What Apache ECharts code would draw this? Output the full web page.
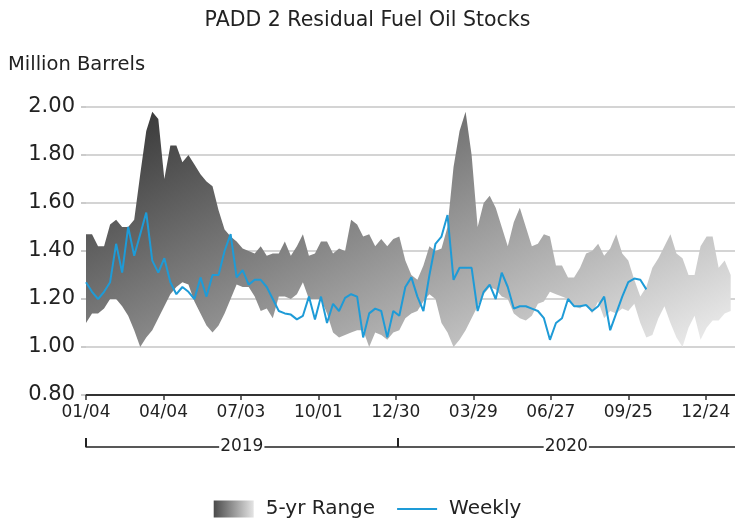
<!DOCTYPE html>
<html>
<head>
<meta charset="utf-8">
<title>PADD 2 Residual Fuel Oil Stocks</title>
<script src="https://cdn.jsdelivr.net/npm/echarts@6/dist/echarts.min.js"></script>
<style>
  html, body { margin: 0; padding: 0; background: #fff; }
  #chart { width: 735px; height: 524px; }
</style>
</head>
<body>
<div id="chart"></div>
<script>
// weekly data, first week is 2019-01-04
const startDate = Date.UTC(2019, 0, 4)
const years = ['2019', '2020']

// 5-yr range, max and min (million barrels)
const rangeHigh = [
  1.47, 1.47, 1.42, 1.42, 1.51, 1.53, 1.50, 1.50, 1.53, 1.72, 1.90, 1.98, 1.95, 1.70, 1.84, 1.84, 1.77, 1.80, 1.76,
  1.72, 1.69, 1.67, 1.57, 1.49, 1.46, 1.44, 1.41, 1.40, 1.39, 1.42, 1.38, 1.39, 1.39, 1.44, 1.38, 1.42, 1.47,
  1.38, 1.39, 1.44, 1.44, 1.39, 1.41, 1.40, 1.53, 1.51, 1.46, 1.47, 1.42, 1.45, 1.42, 1.45, 1.46, 1.36, 1.30,
  1.28, 1.34, 1.42, 1.40, 1.41, 1.50, 1.75, 1.90, 1.98, 1.80, 1.50, 1.60, 1.63, 1.58, 1.50, 1.42, 1.52, 1.58, 1.50,
  1.42, 1.43, 1.47, 1.46, 1.34, 1.34, 1.29, 1.29, 1.33, 1.39, 1.40, 1.43, 1.38, 1.41, 1.47, 1.39,
  1.36, 1.28, 1.21, 1.25, 1.33, 1.37, 1.42, 1.47, 1.39, 1.37, 1.30, 1.30, 1.42, 1.46, 1.46, 1.33, 1.36, 1.30
]
const rangeLow = [
  1.10, 1.14, 1.14, 1.16, 1.20, 1.20, 1.17, 1.13, 1.07, 1.00, 1.04, 1.07, 1.12, 1.17, 1.22, 1.25, 1.27, 1.26, 1.19,
  1.14, 1.09, 1.06, 1.09, 1.14, 1.20, 1.26, 1.25, 1.25, 1.21, 1.15, 1.16, 1.12, 1.21, 1.21, 1.20, 1.22, 1.27,
  1.20, 1.20, 1.20, 1.14, 1.06, 1.04, 1.05, 1.06, 1.07, 1.07, 1.00, 1.06, 1.05, 1.03, 1.06, 1.07, 1.12, 1.14,
  1.15, 1.19, 1.22, 1.20, 1.10, 1.06, 1.00, 1.03, 1.07, 1.12, 1.17, 1.22, 1.25, 1.24, 1.21, 1.20, 1.14, 1.12, 1.11,
  1.13, 1.18, 1.19, 1.23, 1.22, 1.21, 1.20, 1.17, 1.16, 1.18, 1.14, 1.19, 1.12, 1.15, 1.14, 1.16,
  1.15, 1.18, 1.10, 1.04, 1.05, 1.12, 1.17, 1.10, 1.04, 1.00, 1.08, 1.13, 1.03, 1.08, 1.11, 1.11, 1.14, 1.15
]
// weekly stocks 2019-2020
const weekly = [
  1.27, 1.23, 1.20, 1.23, 1.27, 1.43, 1.31, 1.50, 1.38, 1.47, 1.56, 1.36, 1.31, 1.37, 1.27, 1.22, 1.25, 1.23, 1.20,
  1.29, 1.21, 1.30, 1.30, 1.40, 1.47, 1.29, 1.32, 1.26, 1.28, 1.28, 1.25, 1.20, 1.15, 1.14, 1.135, 1.115, 1.13,
  1.21, 1.115, 1.21, 1.10, 1.18, 1.15, 1.205, 1.22, 1.21, 1.04, 1.14, 1.16, 1.15, 1.04, 1.15, 1.13, 1.25, 1.29,
  1.21, 1.15, 1.30, 1.43, 1.46, 1.55, 1.28, 1.33, 1.33, 1.33, 1.15, 1.23, 1.26, 1.20, 1.31, 1.25, 1.16, 1.17, 1.17,
  1.16, 1.15, 1.12, 1.03, 1.10, 1.12, 1.20, 1.17, 1.17, 1.175, 1.15, 1.17, 1.21, 1.07, 1.14, 1.21, 1.27, 1.285, 1.28, 1.24
]

const DAY = 86400000
const xMax = 754

const dayOf = (ms) => Math.round((ms - startDate) / DAY)
const fmtDate = (d) => {
  const dt = new Date(startDate + d * DAY)
  const mm = String(dt.getUTCMonth() + 1).padStart(2, '0')
  const dd = String(dt.getUTCDate()).padStart(2, '0')
  return mm + '/' + dd
}

// year boundaries and label positions on the lower bracket axis
const yearStarts = years.map(y => Math.max(0, dayOf(Date.UTC(+y, 0, 1))))
const yearMids = years.map((y, i) => {
  const end = i + 1 < years.length ? yearStarts[i + 1] : xMax
  return (yearStarts[i] + end) / 2
})

const weeklyPts = weekly.map((v, i) => [i * 7, v])

const font = 'DejaVu Sans, Liberation Sans, sans-serif'
const blue = '#1e9bd7'

// dark at the top left, fading to light grey towards the bottom right
const bandFill = new echarts.graphic.LinearGradient(86, 107, 305, 544, [
  { offset: 0, color: '#2e2e2e' },
  { offset: 1, color: '#ebebeb' }
], true)

const legendFill = new echarts.graphic.LinearGradient(0, 0, 1, 0, [
  { offset: 0, color: '#4a4a4a' },
  { offset: 1, color: '#e4e4e4' }
])

// thin horizontal bar inside a 40x17 box (the corner dots keep the box size)
const lineIcon = 'path://M0,0L0.01,0Z M0,7.5L40,7.5L40,9.5L0,9.5Z M39.99,17L40,17Z'

const chart = echarts.init(document.getElementById('chart'))

const option = {
  animation: false,
  textStyle: { fontFamily: font },
  title: [
    {
      text: 'PADD 2 Residual Fuel Oil Stocks',
      left: 'center',
      top: 5,
      textStyle: { fontFamily: font, fontSize: 20.5, fontWeight: 'normal', color: '#222' }
    },
    {
      text: 'Million Barrels',
      left: 3,
      top: 50,
      textStyle: { fontFamily: font, fontSize: 19.5, fontWeight: 'normal', color: '#222' }
    }
  ],
  legend: {
    bottom: 0,
    left: 'center',
    itemWidth: 40,
    itemHeight: 17,
    itemGap: 22,
    textStyle: { fontFamily: font, fontSize: 20, color: '#222', padding: [0, 0, 0, 7] },
    data: [
      { name: '5-yr Range', icon: 'rect', itemStyle: { color: legendFill } },
      { name: 'Weekly', icon: lineIcon, itemStyle: { color: blue } }
    ]
  },
  grid: { left: 86, right: 0, top: 107, bottom: 129 },
  xAxis: [
    {
      type: 'value',
      min: 0,
      max: xMax,
      interval: 90,
      axisLine: { lineStyle: { color: '#333', width: 2 } },
      axisTick: { show: true, length: 5, lineStyle: { color: '#333', width: 1.5 } },
      axisLabel: {
        margin: 9,
        fontFamily: font,
        fontSize: 17,
        color: '#222',
        showMaxLabel: false,
        formatter: (v) => fmtDate(v)
      },
      splitLine: { show: false }
    },
    {
      type: 'value',
      position: 'bottom',
      offset: 52,
      min: 0,
      max: xMax,
      axisLine: { show: true, lineStyle: { color: '#222', width: 1.5 } },
      axisTick: {
        show: true,
        inside: true,
        length: 9,
        customValues: yearStarts,
        lineStyle: { color: '#222', width: 2 }
      },
      axisLabel: {
        customValues: yearMids,
        margin: 0,
        verticalAlign: 'middle',
        fontFamily: font,
        fontSize: 17,
        color: '#222',
        backgroundColor: '#fff',
        padding: [0, 1],
        formatter: (v) => years[yearMids.indexOf(v)] || ''
      },
      splitLine: { show: false }
    }
  ],
  yAxis: {
    type: 'value',
    min: 0.8,
    max: 2.0,
    interval: 0.2,
    axisLine: { show: false },
    axisTick: { show: true, length: 5, lineStyle: { color: '#bbb', width: 1.5 } },
    axisLabel: {
      margin: 11,
      fontFamily: font,
      fontSize: 21,
      color: '#222',
      formatter: (v) => v.toFixed(2)
    },
    splitLine: { lineStyle: { color: '#c6c6c6', width: 1.5 } }
  },
  series: [
    {
      // band between the weekly min and max of the 5-yr range
      name: '5-yr Range',
      type: 'custom',
      data: [[0, rangeLow[0]]],
      encode: { x: 0, y: 1 },
      clip: true,
      silent: true,
      itemStyle: { color: '#888' },
      z: 1,
      renderItem: (params, api) => {
        const top = rangeHigh.map((v, i) => api.coord([i * 7, v]))
        const bottom = rangeLow.map((v, i) => api.coord([i * 7, v])).reverse()
        return {
          type: 'polygon',
          shape: { points: top.concat(bottom) },
          style: { fill: bandFill }
        }
      }
    },
    {
      name: 'Weekly',
      type: 'line',
      data: weeklyPts,
      symbol: 'none',
      itemStyle: { color: blue },
      lineStyle: { color: blue, width: 2 },
      z: 3
    }
  ]
}

chart.setOption(option)
</script>
</body>
</html>
